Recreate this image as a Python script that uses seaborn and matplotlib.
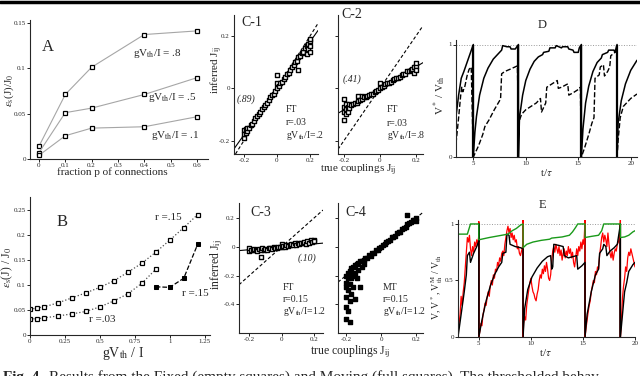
import numpy as np
import seaborn as sns
import matplotlib.pyplot as plt
from matplotlib.lines import Line2D

# ---- panel A: error vs fraction of connections
frac_p = [0, 0.1, 0.2, 0.4, 0.6]
err_a_08 = [0.014, 0.071, 0.101, 0.137, 0.141]
err_a_05 = [0.007, 0.051, 0.056, 0.071, 0.0895]
err_a_01 = [0.004, 0.0256, 0.034, 0.0355, 0.0465]

# ---- panel B: error vs gVth/I
gv_fixed = [0, 0.05, 0.1, 0.2, 0.3, 0.4, 0.5, 0.6, 0.7, 0.8, 0.9, 1.0, 1.1, 1.2]
err_b_r15 = [0.051, 0.054, 0.056, 0.064, 0.074, 0.084, 0.095, 0.108, 0.125, 0.143, 0.165, 0.189, 0.214, 0.240]
gv_fixed_r03 = [0, 0.05, 0.1, 0.2, 0.3, 0.4, 0.5, 0.6, 0.7, 0.8, 0.9]
err_b_r03 = [0.032, 0.0325, 0.034, 0.038, 0.042, 0.047, 0.056, 0.068, 0.082, 0.103, 0.131]
gv_moving = [0.9, 1.0, 1.1, 1.2]
err_b_moving = [0.096, 0.095, 0.113, 0.181]

# ---- panels C: inferred vs true couplings
c1_x = [-0.20, -0.20, -0.20, -0.19, -0.19, -0.18, -0.18, -0.17, -0.16, -0.15, -0.14, -0.13, -0.12,
        -0.11, -0.10, -0.09, -0.08, -0.07, -0.06, -0.05, -0.04, -0.03, -0.02, -0.01, 0.00, 0.00,
        0.00, 0.01, 0.02, 0.03, 0.04, 0.05, 0.06, 0.07, 0.08, 0.09, 0.10, 0.11, 0.12, 0.13, 0.13,
        0.14, 0.15, 0.16, 0.17, 0.18, 0.18, 0.19, 0.19, 0.20, 0.20, 0.20, 0.20]
c1_y = [-0.19, -0.16, -0.175, -0.17, -0.155, -0.165, -0.15, -0.15, -0.14, -0.135, -0.125, -0.115,
        -0.105, -0.10, -0.09, -0.08, -0.07, -0.065, -0.055, -0.045, -0.035, -0.025, -0.02, -0.01,
        0.0, 0.05, 0.02, 0.01, 0.02, 0.025, 0.035, 0.045, 0.055, 0.06, 0.07, 0.08, 0.09, 0.10,
        0.105, 0.12, 0.07, 0.125, 0.135, 0.14, 0.155, 0.16, 0.13, 0.17, 0.15, 0.18, 0.16, 0.19, 0.14]

c2_x = [-0.20, -0.20, -0.20, -0.20, -0.19, -0.19, -0.19, -0.18, -0.18, -0.17, -0.17, -0.16, -0.15,
        -0.14, -0.13, -0.12, -0.12, -0.11, -0.10, -0.10, -0.09, -0.08, -0.07, -0.06, -0.05, -0.04,
        -0.03, -0.02, -0.01, 0.00, 0.00, 0.01, 0.02, 0.03, 0.04, 0.05, 0.06, 0.07, 0.08, 0.09,
        0.10, 0.11, 0.12, 0.13, 0.14, 0.15, 0.16, 0.17, 0.18, 0.19, 0.19, 0.20, 0.20, 0.20]
c2_y = [-0.04, -0.09, -0.12, -0.07, -0.06, -0.10, -0.08, -0.07, -0.09, -0.075, -0.06, -0.065,
        -0.06, -0.055, -0.055, -0.05, -0.03, -0.045, -0.04, -0.03, -0.035, -0.035, -0.03, -0.025,
        -0.02, -0.02, -0.015, -0.01, -0.005, 0.0, 0.02, 0.005, 0.01, 0.015, 0.02, 0.02, 0.025,
        0.03, 0.035, 0.04, 0.04, 0.045, 0.05, 0.055, 0.055, 0.065, 0.065, 0.07, 0.075, 0.08, 0.06,
        0.085, 0.095, 0.07]

c3_x = [-0.20, -0.20, -0.19, -0.18, -0.17, -0.16, -0.15, -0.14, -0.13, -0.13, -0.12, -0.11, -0.10,
        -0.09, -0.08, -0.07, -0.06, -0.05, -0.04, -0.03, -0.02, -0.01, 0.00, 0.00, 0.01, 0.02,
        0.03, 0.04, 0.05, 0.06, 0.07, 0.08, 0.09, 0.10, 0.11, 0.12, 0.13, 0.14, 0.15, 0.16, 0.17,
        0.18, 0.19, 0.20, 0.20]
c3_y = [-0.03, -0.01, -0.02, -0.025, -0.015, -0.02, -0.03, -0.015, -0.025, -0.07, -0.01, -0.02,
        -0.015, -0.02, -0.005, -0.01, -0.015, 0.0, -0.01, -0.005, 0.0, 0.0, 0.0, 0.02, 0.005, 0.0,
        0.01, 0.005, 0.01, 0.02, 0.01, 0.025, 0.015, 0.03, 0.02, 0.03, 0.025, 0.035, 0.02, 0.04,
        0.03, 0.045, 0.035, 0.05, 0.04]

c4_x = [-0.20, -0.20, -0.20, -0.20, -0.20, -0.20, -0.19, -0.19, -0.19, -0.19, -0.18, -0.18, -0.18,
        -0.18, -0.17, -0.17, -0.17, -0.16, -0.16, -0.16, -0.15, -0.15, -0.15, -0.14, -0.14, -0.13,
        -0.13, -0.12, -0.12, -0.11, -0.11, -0.10, -0.10, -0.09, -0.08, -0.07, -0.06, -0.05, -0.04,
        -0.03, -0.02, -0.01, 0.00, 0.01, 0.02, 0.03, 0.04, 0.05, 0.06, 0.07, 0.08, 0.09, 0.10,
        0.11, 0.12, 0.13, 0.14, 0.15, 0.16, 0.17, 0.18, 0.19, 0.20, 0.20, 0.15]
c4_y = [-0.20, -0.28, -0.35, -0.42, -0.50, -0.25, -0.18, -0.30, -0.45, -0.22, -0.17, -0.26, -0.38,
        -0.52, -0.15, -0.22, -0.33, -0.14, -0.28, -0.20, -0.13, -0.18, -0.36, -0.12, -0.22, -0.11,
        -0.16, -0.10, -0.28, -0.10, -0.14, -0.09, -0.12, -0.08, -0.075, -0.06, -0.065, -0.04,
        -0.045, -0.025, -0.02, -0.005, 0.0, 0.015, 0.02, 0.035, 0.04, 0.045, 0.065, 0.07, 0.075,
        0.095, 0.10, 0.105, 0.125, 0.13, 0.14, 0.16, 0.165, 0.17, 0.185, 0.19, 0.20, 0.18, 0.22]

fit_slopes = {"C-1": 0.89, "C-2": 0.41, "C-3": 0.10}

# ---- panel D: V*/Vth traces (t, v)
d_spikes = [5.0, 9.3, 15.3, 18.7]
d_solid = [(3.35, 0.36), (3.6, 0.55), (3.85, 0.70), (4.1, 0.76), (4.4, 0.84), (4.7, 0.92), (5.0, 1.0),
           (5.0, 0.0), (5.15, 0.22), (5.3, 0.36), (5.6, 0.55), (6.0, 0.70), (6.4, 0.79), (6.9, 0.87),
           (7.4, 0.92), (7.7, 0.95), (7.8, 0.99), (8.2, 0.98), (8.5, 0.98), (8.6, 0.96), (9.0, 0.96),
           (9.3, 1.0), (9.3, 0.0), (9.4, 0.35), (9.7, 0.55), (10.0, 0.68), (10.4, 0.78), (10.8, 0.85),
           (11.2, 0.89), (11.6, 0.91), (11.7, 0.93), (12.2, 0.94), (12.3, 0.97), (12.8, 0.97),
           (12.9, 0.99), (13.4, 0.97), (13.5, 0.98), (14.0, 0.98), (14.1, 0.96), (14.5, 0.95),
           (14.6, 0.93), (15.0, 0.93), (15.1, 0.97), (15.3, 1.0), (15.3, 0.0), (15.45, 0.25),
           (15.7, 0.48), (16.0, 0.63), (16.4, 0.76), (16.8, 0.84), (17.2, 0.88), (17.3, 0.91),
           (17.8, 0.93), (17.9, 0.95), (18.4, 0.95), (18.5, 0.93), (18.7, 1.0), (18.7, 0.0),
           (18.8, 0.3), (19.1, 0.5), (19.5, 0.65), (20.0, 0.77), (20.6, 0.86)]
d_dashed = [(3.35, 0.12), (3.6, 0.35), (3.8, 0.55), (3.9, 0.62), (4.0, 0.58), (4.2, 0.63), (4.4, 0.72),
            (4.6, 0.78), (4.8, 0.80), (5.0, 0.0), (5.5, 0.1), (5.9, 0.2), (6.1, 0.27), (6.5, 0.33),
            (7.0, 0.42), (7.5, 0.5), (7.6, 0.52), (7.7, 0.74), (8.0, 0.76), (8.5, 0.78), (9.2, 0.81),
            (9.3, 0.3), (9.6, 0.38), (10.0, 0.42), (10.5, 0.45), (11.0, 0.48), (11.4, 0.52),
            (11.5, 0.4), (11.9, 0.48), (12.0, 0.62), (12.5, 0.65), (13.0, 0.68), (13.1, 0.61),
            (13.4, 0.62), (13.8, 0.64), (14.0, 0.65), (14.1, 0.55), (14.5, 0.57), (15.0, 0.6),
            (15.2, 0.62), (15.3, 0.0), (15.6, 0.08), (16.0, 0.2), (16.3, 0.3), (16.5, 0.35),
            (16.6, 0.7), (17.0, 0.73), (17.1, 0.8), (17.4, 0.82), (17.5, 0.72), (17.8, 0.76),
            (18.0, 0.8), (18.1, 0.9), (18.5, 0.93), (18.7, 0.95), (18.7, 0.0), (18.8, 0.15),
            (19.0, 0.35), (19.3, 0.45), (19.6, 0.48), (20.0, 0.52), (20.6, 0.56)]

# ---- panel E: V (red), V* (black), VthM (green)
e_green = [(3.0, 0.91), (3.9, 0.91), (4.2, 1.0), (5.0, 1.0), (5.0, 0.86), (5.5, 0.87), (6.0, 0.88),
           (6.6, 0.89), (7.2, 0.90), (7.8, 0.91), (8.2, 0.94), (8.6, 0.96), (9.0, 0.99), (9.25, 1.0),
           (9.25, 0.79), (9.6, 0.82), (10.2, 0.84), (11.0, 0.855), (11.8, 0.865), (12.0, 0.875),
           (13.0, 0.885), (13.7, 0.90), (14.0, 0.93), (14.3, 0.97), (14.5, 1.0), (15.2, 1.0),
           (15.2, 0.88), (15.8, 0.89), (16.5, 0.90), (16.8, 0.94), (17.0, 1.0), (18.6, 1.0),
           (18.6, 0.88), (19.0, 0.885), (19.4, 0.90), (19.8, 0.93), (20.0, 0.94)]
e_black = [(3.0, 0.0), (3.3, 0.2), (3.6, 0.4), (3.8, 0.55), (3.9, 0.72), (4.1, 0.75), (4.2, 0.66),
           (4.5, 0.74), (4.8, 0.80), (5.0, 0.85), (5.0, 1.0), (5.0, 0.0), (5.3, 0.15), (5.7, 0.32),
           (6.1, 0.45), (6.5, 0.55), (6.9, 0.62), (7.2, 0.66), (7.3, 0.74), (7.6, 0.75), (7.7, 0.91),
           (7.9, 0.90), (8.0, 0.82), (8.5, 0.80), (9.0, 0.79), (9.25, 0.78), (9.25, 0.0), (9.4, 0.25),
           (9.7, 0.42), (10.1, 0.53), (10.6, 0.61), (11.1, 0.67), (11.6, 0.71), (11.9, 0.72),
           (12.0, 0.60), (12.1, 0.62), (12.2, 0.82), (12.7, 0.81), (13.1, 0.80), (13.2, 0.72),
           (13.6, 0.70), (14.0, 0.71), (14.4, 0.72), (14.5, 0.60), (14.9, 0.63), (15.2, 0.66),
           (15.2, 0.0), (15.4, 0.2), (15.8, 0.4), (16.2, 0.55), (16.5, 0.6), (16.6, 0.74),
           (16.9, 0.78), (17.0, 0.82), (17.2, 0.80), (17.3, 0.72), (17.6, 0.76), (18.0, 0.79),
           (18.3, 0.82), (18.6, 1.0), (18.6, 0.0), (18.8, 0.2), (19.0, 0.4), (19.2, 0.48),
           (19.4, 0.58), (19.8, 0.64), (20.0, 0.66)]
e_red = [(3.0, 0.02), (3.1, 0.12), (3.2, 0.2), (3.3, 0.36), (3.4, 0.28), (3.5, 0.4), (3.6, 0.48),
         (3.7, 0.62), (3.8, 0.75), (3.9, 0.88), (4.0, 0.84), (4.1, 0.90), (4.2, 0.78), (4.3, 0.72),
         (4.4, 0.80), (4.5, 0.75), (4.6, 0.84), (4.7, 0.80), (4.8, 0.86), (4.9, 0.82), (5.0, 0.90),
         (5.0, 1.02), (5.0, 0.0), (5.1, 0.05), (5.2, 0.12), (5.3, 0.10), (5.4, 0.2), (5.5, 0.24),
         (5.6, 0.3), (5.7, 0.28), (5.8, 0.35), (5.9, 0.4), (6.0, 0.36), (6.1, 0.45), (6.2, 0.5),
         (6.3, 0.46), (6.4, 0.55), (6.5, 0.52), (6.6, 0.6), (6.7, 0.58), (6.8, 0.66), (6.9, 0.63),
         (7.0, 0.70), (7.1, 0.67), (7.2, 0.74), (7.3, 0.76), (7.4, 0.72), (7.5, 0.82), (7.6, 0.88),
         (7.7, 0.94), (7.8, 0.98), (7.9, 0.92), (8.0, 0.96), (8.1, 0.88), (8.2, 0.92), (8.3, 0.86),
         (8.4, 0.90), (8.5, 0.84), (8.6, 0.86), (8.7, 0.78), (8.8, 0.80), (8.9, 0.74), (9.0, 0.72),
         (9.1, 0.76), (9.2, 0.80), (9.25, 1.04), (9.25, 0.0), (9.3, 0.12), (9.4, 0.18), (9.5, 0.15),
         (9.6, 0.28), (9.7, 0.35), (9.8, 0.42), (9.9, 0.48), (10.0, 0.52), (10.1, 0.45), (10.2, 0.40),
         (10.3, 0.38), (10.4, 0.34), (10.5, 0.32), (10.6, 0.38), (10.7, 0.42), (10.8, 0.50),
         (10.9, 0.55), (11.0, 0.52), (11.1, 0.60), (11.2, 0.56), (11.3, 0.63), (11.4, 0.58),
         (11.5, 0.66), (11.6, 0.60), (11.7, 0.52), (11.8, 0.50), (11.9, 0.55), (12.0, 0.68),
         (12.1, 0.76), (12.2, 0.80), (12.3, 0.75), (12.4, 0.82), (12.5, 0.78), (12.6, 0.74),
         (12.7, 0.80), (12.8, 0.72), (12.9, 0.77), (13.0, 0.68), (13.1, 0.74), (13.2, 0.78),
         (13.3, 0.70), (13.4, 0.76), (13.5, 0.72), (13.6, 0.80), (13.7, 0.74), (13.8, 0.78),
         (13.9, 0.70), (14.0, 0.75), (14.1, 0.66), (14.2, 0.62), (14.3, 0.70), (14.4, 0.78),
         (14.5, 0.72), (14.6, 0.80), (14.7, 0.76), (14.8, 0.84), (14.9, 0.78), (15.0, 0.86),
         (15.1, 0.82), (15.2, 1.04), (15.2, 0.0), (15.3, 0.08), (15.4, 0.15), (15.5, 0.22),
         (15.6, 0.28), (15.7, 0.32), (15.8, 0.40), (15.9, 0.45), (16.0, 0.50), (16.1, 0.48),
         (16.2, 0.58), (16.3, 0.55), (16.4, 0.62), (16.5, 0.60), (16.6, 0.72), (16.7, 0.80),
         (16.8, 0.88), (16.9, 0.92), (17.0, 0.84), (17.1, 0.90), (17.2, 0.86), (17.3, 0.80),
         (17.4, 0.92), (17.5, 0.82), (17.6, 0.74), (17.7, 0.70), (17.8, 0.76), (17.9, 0.68),
         (18.0, 0.74), (18.1, 0.78), (18.2, 0.76), (18.3, 0.82), (18.4, 0.84), (18.5, 0.88),
         (18.6, 1.04), (18.6, 0.0), (18.7, 0.15), (18.8, 0.35), (18.9, 0.45), (19.0, 0.52),
         (19.1, 0.62), (19.2, 0.58), (19.3, 0.70), (19.4, 0.75), (19.5, 0.72), (19.6, 0.78),
         (19.7, 0.74), (19.8, 0.70), (19.9, 0.66), (20.0, 0.62)]
e_spikes = [5.0, 9.25, 15.2, 18.6]

sns.set_style("ticks")
plt.rcParams['font.family'] = ['Liberation Serif', 'DejaVu Serif']
plt.rcParams['mathtext.fontset'] = 'stix'
plt.rcParams['axes.linewidth'] = 0.8

W, H = 640, 376
fig = plt.figure(figsize=(6.4, 3.76), dpi=100)


def rect(l, t, r, b):
    return [l / W, 1 - b / H, (r - l) / W, (b - t) / H]


def ftext(x, y, s, **kw):
    kw.setdefault('ha', 'center')
    kw.setdefault('va', 'center')
    fig.text(x / W, 1 - y / H, s, **kw)


def style(ax):
    sns.despine(ax=ax)
    ax.tick_params(labelsize=5, length=2, width=0.6, pad=1, color='black')


def trace(ax, pts, **kw):
    t, v = np.array(pts).T
    sns.lineplot(x=t, y=v, ax=ax, estimator=None, sort=False, **kw)


open_sq = dict(marker='s', markersize=3.5, markerfacecolor='white',
               markeredgecolor='black', markeredgewidth=0.9)

# A
ax = fig.add_axes(rect(30, 20, 208, 159))
for vals in (err_a_08, err_a_05, err_a_01):
    sns.lineplot(x=frac_p, y=vals, ax=ax, color='0.65', lw=0.8, **open_sq)
ax.set_xlim(-0.034, 0.642)
ax.set_ylim(0, 0.153)
ax.set_xticks([0, 0.1, 0.2, 0.3, 0.4, 0.5, 0.6], labels=['0', '0.1', '0.2', '0.3', '0.4', '0.5', '0.6'])
ax.set_yticks([0, 0.05, 0.1, 0.15], labels=['0', '0.05', '0.1', '0.15'])
style(ax)
ftext(48, 47, 'A', size=12)
ftext(157, 53, r'gV$_{\rm th}$/I = .8', size=8)
ftext(172, 97, r'gV$_{\rm th}$/I = .5', size=8)
ftext(175, 135, r'gV$_{\rm th}$/I = .1', size=8)
ftext(9, 90, r'$\varepsilon_{\rm s}$(J)/J$_0$', size=8, rotation=90)
ftext(112, 172, 'fraction p of connections', size=8)

# B
ax = fig.add_axes(rect(30, 197, 210, 335))
sns.lineplot(x=gv_fixed, y=err_b_r15, ax=ax, color='0.3', lw=0.9, ls=':', **open_sq)
sns.lineplot(x=gv_fixed_r03, y=err_b_r03, ax=ax, color='0.3', lw=0.9, ls=':', **open_sq)
sns.lineplot(x=gv_moving, y=err_b_moving, ax=ax, color='black', lw=0.9, ls='--', marker='s',
             markersize=3.5, markerfacecolor='black', markeredgecolor='black')
ax.set_xlim(0, 1.288)
ax.set_ylim(0, 0.275)
ax.set_xticks([0, 0.25, 0.5, 0.75, 1, 1.25], labels=['0', '0.25', '0.5', '0.75', '1', '1.25'])
ax.set_yticks([0, 0.05, 0.1, 0.15, 0.2, 0.25], labels=['0', '0.05', '0.1', '0.15', '0.2', '0.25'])
style(ax)
ftext(62, 222, 'B', size=12)
ftext(168, 217, 'r =.15', size=8)
ftext(195, 293, 'r =.15', size=8)
ftext(102, 320, 'r =.03', size=8)
ftext(7, 267, r'$\varepsilon_{\rm s}$(J) / J$_0$', size=8.5, rotation=90)
ftext(123, 354, r'gV$_{\rm th}$ / I', size=10)

# C panels
c_panels = [
    ("C-1", (234, 15, 318, 154), (-0.26, 0.248), (-0.251, 0.28), c1_x, c1_y, 'white', True),
    ("C-2", (338, 15, 423, 154), (-0.233, 0.239), (-0.251, 0.28), c2_x, c2_y, 'white', False),
    ("C-3", (239, 203, 323, 333), (-0.264, 0.256), (-0.6, 0.305), c3_x, c3_y, 'white', True),
    ("C-4", (338, 203, 423, 333), (-0.246, 0.24), (-0.6, 0.305), c4_x, c4_y, 'black', False),
]
for name, box, xl, yl, xs, ys, face, ylabels in c_panels:
    ax = fig.add_axes(rect(*box))
    sns.scatterplot(x=xs, y=ys, ax=ax, marker='s', s=6, color=face, edgecolor='black',
                    linewidth=1.0, zorder=3)
    ax.axline((0, 0), slope=1, color='black', lw=0.8, ls=(0, (3, 2)))
    if name in fit_slopes:
        ax.axline((0, 0), slope=fit_slopes[name], color='black', lw=0.8)
    ax.set_xlim(*xl)
    ax.set_ylim(*yl)
    ax.set_xticks([-0.2, 0, 0.2], labels=['-0.2', '0', '0.2'])
    if yl[0] < -0.5:
        yt = [0.2, 0, -0.2, -0.4]
    else:
        yt = [0.2, 0, -0.2]
    ax.set_yticks(yt, labels=[('%g' % v) for v in yt] if ylabels else [])
    style(ax)

ftext(252, 23, 'C-1', size=10)
ftext(352, 14, 'C-2', size=10)
ftext(261, 212, 'C-3', size=10)
ftext(356, 212, 'C-4', size=10)
ftext(246, 99, '(.89)', size=7, style='italic')
ftext(352, 79, '(.41)', size=7, style='italic')
ftext(307, 258, '(.10)', size=7, style='italic')
for x0, ys3, lines in [
    (286, (109, 122, 135), ('FT', 'r=.03', r'gV$_{\rm th}$/I=.2')),
    (387, (110, 123, 135), ('FT', 'r=.03', r'gV$_{\rm th}$/I=.8')),
    (283, (288, 299, 311), ('FT', 'r=0.15', r'gV$_{\rm th}$/I=1.2')),
    (383, (287, 299, 311), ('MT', 'r=0.15', r'gV$_{\rm th}$/I=1.2')),
]:
    for yy, s in zip(ys3, lines):
        ftext(x0, yy, s, size=7, ha='left')
ftext(217, 70, r'inferred J$_{\rm ij}$', size=8, rotation=90)
ftext(358, 170, r'true couplings J$_{\rm ij}$', size=8)
ftext(217, 265, r'inferred J$_{\rm ij}$', size=8.5, rotation=90)
ftext(350, 352, r'true couplings J$_{\rm ij}$', size=8.5)

# D
ax = fig.add_axes(rect(456, 40, 637, 157))
ax.axhline(1, color='0.6', lw=0.7, ls=':')
ax.vlines(d_spikes, 0, 1, color='black', lw=1.6)
trace(ax, d_solid, color='black', lw=1.1)
trace(ax, d_dashed, color='black', lw=1.0, ls='--')
ax.set_xlim(3.35, 20.6)
ax.set_ylim(0, 1.04)
ax.set_xticks([5, 10, 15, 20])
ax.set_yticks([0, 1])
style(ax)
ftext(542, 25, 'D', size=9)
ftext(546, 173, r't/$\tau$', size=8)
ftext(440, 95, r'V$^*$ / V$_{\rm th}$', size=8, rotation=90)

# E
ax = fig.add_axes(rect(458, 220, 635, 337))
ax.axhline(1, color='0.6', lw=0.7, ls=':')
ax.vlines(e_spikes, 0, 1, color='black', lw=1.2)
trace(ax, e_red, color='red', lw=0.9)
trace(ax, e_black, color='black', lw=1.0)
trace(ax, e_green, color='#1a9a1a', lw=1.0)
ax.set_xlim(3, 20)
ax.set_ylim(0, 1.035)
ax.set_xticks([5, 10, 15, 20])
ax.set_yticks([0, 0.5, 1], labels=['0', '0.5', '1'])
style(ax)
ftext(542, 205, 'E', size=9)
ftext(545, 353, r't/$\tau$', size=8)
ftext(437, 287, r'V, V$^*$, V$_{\rm th}^{\rm M}$ / V$_{\rm th}$', size=7, rotation=90)

# top rule and cut-off caption
fig.add_artist(Line2D([0, 1], [1 - 2 / H, 1 - 2 / H], color='black', lw=2.5))
ftext(3, 381, 'Fig. 4', size=11, weight='bold', ha='left', va='baseline')
ftext(49, 381, 'Results from the Fixed (empty squares) and Moving (full squares). The thresholded behav',
      size=11, ha='left', va='baseline')

fig.savefig('out.png', dpi=100)
